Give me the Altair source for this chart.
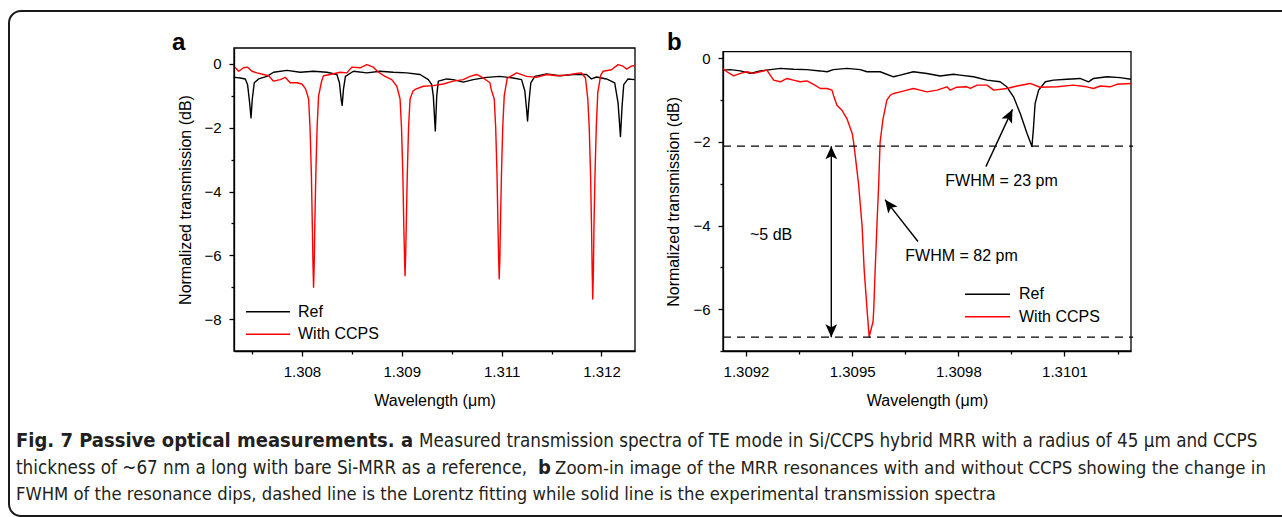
import json
import altair as alt
import pandas as pd

W, H = 1282, 517
FONT = "Liberation Sans, Arial, Helvetica, sans-serif"
CAP_FONT = "Liberation Sans Narrow, DejaVu Sans Condensed, Roboto Condensed, Liberation Sans, sans-serif"

SERIES = ["Ref", "With CCPS"]
SERIES_COLORS = ["#000000", "#ff0000"]

# ---------------- Panel a : transmission spectra (wavelength um, dB) ----------------
a_ref_wl = [1.307163, 1.307229, 1.307291, 1.307320, 1.307345, 1.307363, 1.307379, 1.307404,
            1.307458, 1.307563, 1.307645, 1.307813, 1.307979, 1.308145, 1.308313, 1.308438,
            1.308470, 1.308491, 1.308504, 1.308520, 1.308545, 1.308645, 1.308813, 1.308979,
            1.309145, 1.309313, 1.309479, 1.309583, 1.309625, 1.309645, 1.309670, 1.309688,
            1.309708, 1.309813, 1.309895, 1.310020, 1.310145, 1.310313, 1.310479, 1.310645,
            1.310750, 1.310791, 1.310813, 1.310825, 1.310841, 1.310866, 1.310916, 1.311063,
            1.311229, 1.311395, 1.311563, 1.311625, 1.311688, 1.311813, 1.311916, 1.311958,
            1.311988, 1.312008, 1.312029, 1.312083, 1.312166]
a_ref_db = [-0.42, -0.44, -0.47, -0.65, -1.20, -1.69, -1.10, -0.59,
            -0.47, -0.39, -0.26, -0.20, -0.26, -0.23, -0.26, -0.33,
            -0.59, -1.10, -1.30, -0.80, -0.39, -0.23, -0.28, -0.23,
            -0.26, -0.28, -0.33, -0.49, -0.65, -1.00, -2.10, -1.00,
            -0.54, -0.47, -0.49, -0.57, -0.49, -0.42, -0.39, -0.44,
            -0.49, -0.85, -1.43, -1.79, -1.22, -0.59, -0.39, -0.31,
            -0.37, -0.33, -0.33, -0.47, -0.41, -0.47, -0.59, -1.22,
            -2.28, -1.33, -0.65, -0.47, -0.49]

a_ccps_wl = [1.307163, 1.307208, 1.307270, 1.307320, 1.307375, 1.307438, 1.307520, 1.307583,
             1.307645, 1.307729, 1.307791, 1.307854, 1.307938, 1.308000,
             1.308046, 1.308084, 1.308102, 1.308119, 1.308130, 1.308139, 1.308146, 1.308154,
             1.308162, 1.308174, 1.308190, 1.308209, 1.308246,
             1.308270, 1.308354, 1.308479, 1.308563, 1.308625, 1.308729, 1.308813, 1.308895,
             1.308958, 1.309041, 1.309125, 1.309188,
             1.309229, 1.309247, 1.309264, 1.309275, 1.309284, 1.309291, 1.309299, 1.309307,
             1.309319, 1.309335, 1.309354, 1.309391,
             1.309416, 1.309520, 1.309645, 1.309770, 1.309895, 1.310020, 1.310104, 1.310188,
             1.310270, 1.310354, 1.310370,
             1.310408, 1.310426, 1.310443, 1.310454, 1.310463, 1.310470, 1.310478, 1.310486,
             1.310498, 1.310514, 1.310533, 1.310570,
             1.310688, 1.310813, 1.310938, 1.311063, 1.311188, 1.311313, 1.311438, 1.311500,
             1.311550,
             1.311579, 1.311597, 1.311614, 1.311625, 1.311634, 1.311641, 1.311649, 1.311657,
             1.311669, 1.311685, 1.311704, 1.311741,
             1.311770, 1.311875, 1.311958, 1.312020, 1.312063, 1.312125, 1.312166]
a_ccps_db = [-0.10, -0.23, -0.12, -0.10, -0.23, -0.28, -0.33, -0.37,
             -0.54, -0.49, -0.42, -0.59, -0.59, -0.63,
             -0.78, -1.10, -2.00, -3.50, -5.00, -6.30, -7.00, -6.30,
             -5.00, -3.50, -2.00, -1.00, -0.55,
             -0.37, -0.33, -0.26, -0.28, -0.10, -0.12, -0.02, -0.10,
             -0.26, -0.39, -0.49, -0.70,
             -1.10, -2.00, -3.50, -5.00, -6.00, -6.64, -6.00, -5.00,
             -3.50, -2.00, -1.10, -0.85,
             -0.80, -0.70, -0.68, -0.63, -0.54, -0.49, -0.39, -0.33,
             -0.44, -0.59, -0.80,
             -1.10, -2.00, -3.50, -5.00, -6.10, -6.74, -6.10, -5.00,
             -3.50, -2.00, -1.00, -0.45,
             -0.28, -0.39, -0.42, -0.33, -0.37, -0.35, -0.30, -0.28,
             -0.44,
             -1.10, -2.00, -3.50, -5.00, -6.50, -7.37, -6.50, -5.00,
             -3.50, -2.00, -0.90, -0.35,
             -0.23, -0.18, -0.02, -0.07, -0.16, -0.07, -0.05]

a_x_domain = [1.30715, 1.31217]
a_y_domain = [-9.0, 0.5]
a_xticks = [1.308, 1.30925, 1.3105, 1.31175]
a_xtick_labels = ["1.308", "1.309", "1.311", "1.312"]
a_xminor = [1.307375, 1.308625, 1.309875, 1.311125]
a_yticks = [0, -2, -4, -6, -8]
a_yminor = [-1, -3, -5, -7]

# ---------------- Panel b : zoom on one resonance ----------------
b_ref_wl = [1.309135, 1.309156, 1.309184, 1.309212, 1.309240, 1.309269, 1.309297, 1.309334,
            1.309372, 1.309410, 1.309429, 1.309447, 1.309485, 1.309523, 1.309542, 1.309579,
            1.309617, 1.309636, 1.309673, 1.309711, 1.309749, 1.309786, 1.309805, 1.309843,
            1.309881, 1.309918, 1.309937, 1.309956, 1.309975, 1.309994, 1.310008, 1.310012,
            1.310017, 1.310027, 1.310046, 1.310069, 1.310107, 1.310144, 1.310168, 1.310182,
            1.310220, 1.310257, 1.310288]
b_ref_db = [-0.28, -0.27, -0.30, -0.36, -0.30, -0.27, -0.24, -0.26,
            -0.27, -0.30, -0.32, -0.27, -0.24, -0.27, -0.32, -0.32,
            -0.44, -0.40, -0.32, -0.36, -0.42, -0.38, -0.40, -0.44,
            -0.52, -0.56, -0.68, -0.92, -1.32, -1.79, -2.11, -1.71,
            -1.08, -0.76, -0.56, -0.52, -0.50, -0.48, -0.56, -0.48,
            -0.44, -0.46, -0.50]

b_ccps_wl = [1.309135, 1.309146, 1.309165, 1.309184, 1.309203, 1.309221, 1.309240, 1.309259,
             1.309278, 1.309297, 1.309316, 1.309334, 1.309353, 1.309372, 1.309391, 1.309410,
             1.309429, 1.309443, 1.309447, 1.309457, 1.309471, 1.309485, 1.309500, 1.309504,
             1.309509, 1.309518, 1.309528, 1.309534, 1.309542, 1.309548, 1.309559, 1.309561,
             1.309565, 1.309570, 1.309575, 1.309579, 1.309587, 1.309598, 1.309608, 1.309617,
             1.309636, 1.309655, 1.309673, 1.309692, 1.309711, 1.309740, 1.309768, 1.309777,
             1.309796, 1.309824, 1.309834, 1.309853, 1.309881, 1.309900, 1.309937, 1.309966,
             1.310003, 1.310031, 1.310079, 1.310125, 1.310163, 1.310182, 1.310201, 1.310229,
             1.310248, 1.310288]
b_ccps_db = [-0.24, -0.32, -0.42, -0.36, -0.32, -0.36, -0.32, -0.28,
             -0.52, -0.56, -0.48, -0.52, -0.56, -0.54, -0.62, -0.72,
             -0.72, -0.76, -0.88, -1.12, -1.24, -1.44, -1.79, -2.00,
             -2.35, -3.00, -4.00, -5.06, -6.00, -6.66, -6.30, -6.00,
             -5.06, -4.00, -3.00, -2.00, -1.46, -1.00, -0.88, -0.84,
             -0.80, -0.76, -0.72, -0.76, -0.80, -0.76, -0.68, -0.76,
             -0.69, -0.68, -0.72, -0.64, -0.64, -0.76, -0.72, -0.66,
             -0.60, -0.69, -0.68, -0.64, -0.68, -0.72, -0.66, -0.68,
             -0.62, -0.60]

b_x_domain = [1.309135, 1.310288]
b_y_domain = [-7.0, 0.16]
b_xticks = [1.3092, 1.3095, 1.3098, 1.3101]
b_xtick_labels = ["1.3092", "1.3095", "1.3098", "1.3101"]
b_xminor = [1.30935, 1.30965, 1.30995, 1.31025]
b_yticks = [0, -2, -4, -6]
b_yminor = [-1, -3, -5, -7]

# annotation values in panel b (data units)
b_fit_levels = [-2.1, -6.67]
b_depth_x = 1.309441
b_depth_label = ["~5 dB"]
b_depth_label_pos = [1.309271, -4.22]
b_fwhm_labels = ["FWHM = 82 pm", "FWHM = 23 pm"]
b_fwhm_label_x = [1.309809, 1.309922]
b_fwhm_label_y = [-4.73, -2.93]
b_arrow_tail_x = [1.309686, 1.309878]
b_arrow_tail_y = [-4.38, -2.59]
b_arrow_head_x = [1.309593, 1.309953]
b_arrow_head_y = [-3.38, -1.22]
b_arrow_angle = [323, 26]

caption_bold_1 = "Fig. 7 Passive optical measurements. a"
caption_reg_1 = "Measured transmission spectra of TE mode in Si/CCPS hybrid MRR with a radius of 45 μm and CCPS"
caption_reg_2a = "thickness of ~67 nm a long with bare Si-MRR as a reference,"
caption_bold_2 = "b"
caption_reg_2b = "Zoom-in image of the MRR resonances with and without CCPS showing the change in"
caption_reg_3 = "FWHM of the resonance dips, dashed line is the Lorentz fitting while solid line is the experimental transmission spectra"

# ---------------- layout (pixels) ----------------
PA = dict(left=234, right=635, top=48, bottom=351, title_x=185)
PB = dict(left=723, right=1131, top=51.7, bottom=351, title_x=673.5)

UP_HEAD = "M0,0 L-0.9,2 L0,1.55 L0.9,2 Z"
DOWN_HEAD = "M0,0 L-0.9,-2 L0,-1.55 L0.9,-2 Z"


def spectra_df(ref_wl, ref_db, ccps_wl, ccps_db):
    return pd.concat([
        pd.DataFrame({"wl": ref_wl, "db": ref_db, "series": SERIES[0]}),
        pd.DataFrame({"wl": ccps_wl, "db": ccps_db, "series": SERIES[1]}),
    ], ignore_index=True)


def label_expr(vals, labels):
    return f"{json.dumps(labels)}[indexof({json.dumps(vals)}, datum.value)]"


def panel(df, xdom, ydom, box, xt, xl, xmin, yt, ymin, extra_layers_fn=None):
    xs = alt.Scale(domain=xdom, range=[box["left"], box["right"]], nice=False, zero=False)
    ys = alt.Scale(domain=ydom, range=[box["bottom"], box["top"]], nice=False, zero=False)
    xaxis = alt.Axis(orient="bottom", offset=box["bottom"] - H, values=xt,
                     labelExpr=label_expr(xt, xl), title="Wavelength (μm)",
                     titleX=(box["left"] + box["right"]) / 2, titleY=49,
                     titleAlign="center", titleBaseline="middle")
    yaxis = alt.Axis(orient="left", offset=-box["left"], values=yt, format="d",
                     title="Normalized transmission (dB)",
                     titleX=box["title_x"] - box["left"], titleY=(box["top"] + box["bottom"]) / 2,
                     titleAngle=270, titleAlign="center", titleBaseline="middle")
    xminor = alt.Axis(orient="bottom", offset=box["bottom"] - H, values=xmin, labels=False,
                      domain=False, tickSize=3, title=None)
    yminor = alt.Axis(orient="left", offset=-box["left"], values=ymin, labels=False,
                      domain=False, tickSize=3, title=None)

    lines = alt.Chart(df).mark_line(strokeWidth=1.4, strokeJoin="round").encode(
        x=alt.X("wl:Q", scale=xs, axis=xaxis),
        y=alt.Y("db:Q", scale=ys, axis=yaxis),
        color=alt.Color("series:N", scale=alt.Scale(domain=SERIES, range=SERIES_COLORS), legend=None),
    )
    frame = alt.Chart(pd.DataFrame({"x0": [xdom[0]], "x1": [xdom[1]], "y0": [ydom[0]], "y1": [ydom[1]]})).mark_rect(
        fillOpacity=0, stroke="black", strokeWidth=1.3
    ).encode(
        x=alt.X("x0:Q", scale=xs, axis=xminor), x2="x1:Q",
        y=alt.Y("y1:Q", scale=ys, axis=yminor), y2="y0:Q",
    )
    layers = [frame, lines]
    if extra_layers_fn is not None:
        layers += extra_layers_fn(xs, ys)
    return alt.layer(*layers).resolve_axis(x="independent", y="independent")


def panel_b_extras(xs, ys):
    out = []
    fit = pd.DataFrame({"y": b_fit_levels, "x0": [b_x_domain[0]] * 2, "x1": [b_x_domain[1] + 0.000006] * 2})
    out.append(alt.Chart(fit).mark_rule(color="black", strokeWidth=1.3, strokeDash=[8, 6]).encode(
        x=alt.X("x0:Q", scale=xs, axis=None), x2="x1:Q", y=alt.Y("y:Q", scale=ys, axis=None)))
    depth = pd.DataFrame({"x": [b_depth_x], "y0": [b_fit_levels[0]], "y1": [b_fit_levels[1]]})
    out.append(alt.Chart(depth).mark_rule(color="black", strokeWidth=1.4).encode(
        x=alt.X("x:Q", scale=xs, axis=None), y=alt.Y("y0:Q", scale=ys, axis=None), y2="y1:Q"))
    out.append(alt.Chart(depth).mark_point(shape=UP_HEAD, size=169, filled=True, color="black", opacity=1).encode(
        x=alt.X("x:Q", scale=xs, axis=None), y=alt.Y("y0:Q", scale=ys, axis=None)))
    out.append(alt.Chart(depth).mark_point(shape=DOWN_HEAD, size=169, filled=True, color="black", opacity=1).encode(
        x=alt.X("x:Q", scale=xs, axis=None), y=alt.Y("y1:Q", scale=ys, axis=None)))
    arrows = pd.DataFrame({"tx": b_arrow_tail_x, "ty": b_arrow_tail_y, "hx": b_arrow_head_x,
                           "hy": b_arrow_head_y, "ang": b_arrow_angle})
    out.append(alt.Chart(arrows).mark_rule(color="black", strokeWidth=1.4).encode(
        x=alt.X("tx:Q", scale=xs, axis=None), x2="hx:Q", y=alt.Y("ty:Q", scale=ys, axis=None), y2="hy:Q"))
    out.append(alt.Chart(arrows).mark_point(shape=UP_HEAD, size=169, filled=True, color="black", opacity=1).encode(
        x=alt.X("hx:Q", scale=xs, axis=None), y=alt.Y("hy:Q", scale=ys, axis=None),
        angle=alt.Angle("ang:Q", scale=None)))
    labels = pd.DataFrame({"x": b_fwhm_label_x + [b_depth_label_pos[0]],
                           "y": b_fwhm_label_y + [b_depth_label_pos[1]],
                           "t": b_fwhm_labels + b_depth_label})
    out.append(alt.Chart(labels).mark_text(font=FONT, fontSize=16, color="black", align="center",
                                           baseline="middle").encode(
        x=alt.X("x:Q", scale=xs, axis=None), y=alt.Y("y:Q", scale=ys, axis=None), text="t:N"))
    return out


def deco_text(s, x, y, size, weight="normal", font=FONT, align="left", baseline="alphabetic", color="black"):
    return alt.Chart(pd.DataFrame({"t": [s]})).mark_text(
        font=font, fontSize=size, fontWeight=weight, align=align, baseline=baseline, color=color
    ).encode(x=alt.value(x), y=alt.value(y), text="t:N")


def legend(x0, x1, ys, tx):
    out = []
    for name, col, y in zip(SERIES, SERIES_COLORS, ys):
        out.append(alt.Chart(pd.DataFrame({"t": [name]})).mark_rule(color=col, strokeWidth=1.4).encode(
            x=alt.value(x0), x2=alt.value(x1), y=alt.value(y)))
        out.append(deco_text(name, tx, y, 16, baseline="middle"))
    return out


df_a = spectra_df(a_ref_wl, a_ref_db, a_ccps_wl, a_ccps_db)
df_b = spectra_df(b_ref_wl, b_ref_db, b_ccps_wl, b_ccps_db)

panel_a = panel(df_a, a_x_domain, a_y_domain, PA, a_xticks, a_xtick_labels, a_xminor, a_yticks, a_yminor)
panel_b = panel(df_b, b_x_domain, b_y_domain, PB, b_xticks, b_xtick_labels, b_xminor, b_yticks, b_yminor,
                panel_b_extras)

border = alt.Chart(pd.DataFrame({"t": [""]})).mark_rect(
    fillOpacity=0, stroke="#1a1a1a", strokeWidth=2, cornerRadius=12
).encode(x=alt.value(9), x2=alt.value(1300), y=alt.value(11), y2=alt.value(516))

CAP = 18.3
CAP_1 = 18.7
CAP_2A = 18.7
CAP_2B = 18.5
CAP_B = 20
CAP_COLOR = "#231f20"
deco = [
    border,
    deco_text("a", 172, 50, 24, weight="bold"),
    deco_text("b", 667, 50, 24, weight="bold"),
    deco_text(caption_bold_1, 16, 447, CAP_B, weight="bold", font=CAP_FONT, color=CAP_COLOR),
    deco_text(caption_reg_1, 419, 447, CAP_1, font=CAP_FONT, color=CAP_COLOR),
    deco_text(caption_reg_2a, 16, 474, CAP_2A, font=CAP_FONT, color=CAP_COLOR),
    deco_text(caption_bold_2, 538, 474, CAP_B, weight="bold", font=CAP_FONT, color=CAP_COLOR),
    deco_text(caption_reg_2b, 555, 474, CAP_2B, font=CAP_FONT, color=CAP_COLOR),
    deco_text(caption_reg_3, 16, 500, CAP, font=CAP_FONT, color=CAP_COLOR),
] + legend(246, 290, [311.7, 334.3], 298) + legend(965, 1010, [294.3, 316.7], 1019)

chart = alt.layer(panel_a, panel_b, *deco).resolve_scale(
    x="independent", y="independent"
).properties(
    width=W, height=H, padding=0, autosize=alt.AutoSizeParams(type="none")
).configure_view(stroke=None).configure_axis(
    grid=False, domainColor="black", domainWidth=1.3, tickColor="black", tickWidth=1.3,
    tickSize=5, labelFont=FONT, labelFontSize=15, labelColor="black", labelPadding=8,
    titleFont=FONT, titleFontSize=16, titleFontWeight="normal", titleColor="black",
)

chart.save("out.html", embed_options={"renderer": "svg", "actions": False})
